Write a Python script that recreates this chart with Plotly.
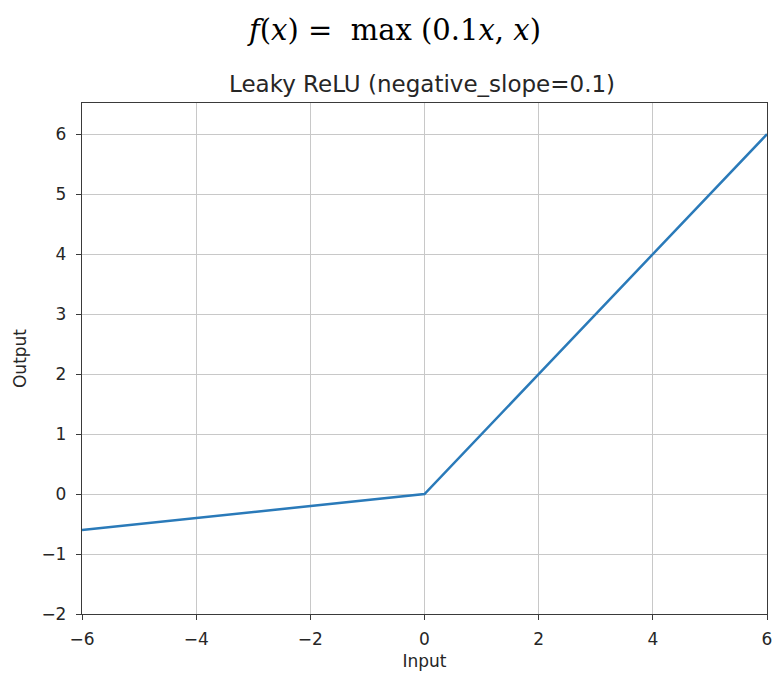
import plotly.graph_objects as go

# Data
inputs = [-6, -4, -2, 0, 2, 4, 6]
outputs = [-0.6, -0.4, -0.2, 0, 2, 4, 6]
x_ticks = [-6, -4, -2, 0, 2, 4, 6]
y_ticks = [-2, -1, 0, 1, 2, 3, 4, 5, 6]

fig = go.Figure()
fig.add_trace(go.Scatter(x=inputs, y=outputs, mode="lines",
                         line=dict(color="#2a7ab9", width=2.5), showlegend=False))

axis_common = dict(showline=True, mirror=True, linecolor="#3a3a3a", linewidth=1.3,
                   ticks="outside", ticklen=5, tickwidth=1.2, tickcolor="#3a3a3a",
                   showgrid=True, gridcolor="#c8c8c8", gridwidth=1.2,
                   zeroline=False, automargin=False, ticklabeloverflow="allow",
                   tickfont=dict(family="DejaVu Sans", size=17, color="#262626"))

fig.update_xaxes(range=[-6, 6], tickvals=x_ticks, ticklabelstandoff=4, **axis_common,
                 title=dict(text="Input", font=dict(family="DejaVu Sans", size=17, color="#262626"), standoff=7))
fig.update_yaxes(range=[-2, 6.52], tickvals=y_ticks, ticklabelstandoff=6, **axis_common,
                 title=dict(text="Output", font=dict(family="DejaVu Sans", size=17, color="#262626"), standoff=10))

fig.update_layout(
    width=772, height=675,
    margin=dict(l=82, r=5, t=103, b=61),
    paper_bgcolor="white", plot_bgcolor="white",
    annotations=[
        dict(text="<i>f</i>(<i>x</i>) =  max (0.1<i>x</i>, <i>x</i>)", xref="paper", yref="paper",
             x=0.455, y=1, yshift=73, xanchor="center", yanchor="middle", showarrow=False,
             font=dict(family="DejaVu Serif", size=29, color="black")),
        dict(text="Leaky ReLU (negative_slope=0.1)", xref="paper", yref="paper",
             x=0.497, y=1, yshift=19, xanchor="center", yanchor="middle", showarrow=False,
             font=dict(family="DejaVu Sans", size=23, color="#262626")),
    ],
)

fig.write_html("out.html")
